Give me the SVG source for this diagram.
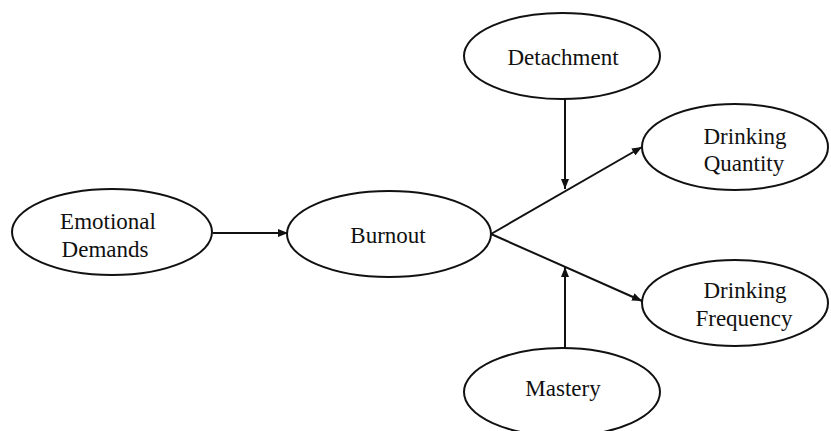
<svg xmlns="http://www.w3.org/2000/svg" width="831" height="431" viewBox="0 0 831 431">
<style>
.n ellipse{fill:#fff;stroke:#111;stroke-width:2}
.n text{font-family:"Liberation Serif","Times New Roman",serif;font-size:23px;fill:#111;text-anchor:middle}
.c line{stroke:#111;stroke-width:2;fill:none}
</style>
<defs>
<marker id="ah" viewBox="0 0 10 8" refX="10" refY="4" markerWidth="10" markerHeight="8" markerUnits="userSpaceOnUse" orient="auto">
<path d="M0,0 L10,4 L0,8 z" fill="#111"/>
</marker>
</defs>
<rect width="831" height="431" fill="#fff"/>
<g class="c">
<line x1="213" y1="233" x2="288" y2="233" marker-end="url(#ah)"/>
<line x1="491" y1="234" x2="642" y2="147" marker-end="url(#ah)"/>
<line x1="491" y1="234" x2="642" y2="301" marker-end="url(#ah)"/>
<line x1="565" y1="99" x2="565" y2="189" marker-end="url(#ah)"/>
<line x1="565" y1="348" x2="565" y2="267" marker-end="url(#ah)"/>
</g>
<g class="n" id="emotional">
<ellipse cx="112" cy="232" rx="100" ry="43"/>
<text x="108" y="229">Emotional</text>
<text x="105" y="257">Demands</text>
</g>
<g class="n" id="burnout">
<ellipse cx="389" cy="234" rx="102" ry="43"/>
<text x="388" y="243">Burnout</text>
</g>
<g class="n" id="detachment">
<ellipse cx="562" cy="56" rx="98" ry="43"/>
<text x="563" y="65">Detachment</text>
</g>
<g class="n" id="quantity">
<ellipse cx="735" cy="147" rx="93" ry="43"/>
<text x="745" y="144">Drinking</text>
<text x="744" y="171">Quantity</text>
</g>
<g class="n" id="frequency">
<ellipse cx="735" cy="303" rx="93" ry="43"/>
<text x="745" y="298">Drinking</text>
<text x="744" y="326">Frequency</text>
</g>
<g class="n" id="mastery">
<ellipse cx="562" cy="392" rx="98" ry="44"/>
<text x="563" y="396">Mastery</text>
</g>
</svg>
